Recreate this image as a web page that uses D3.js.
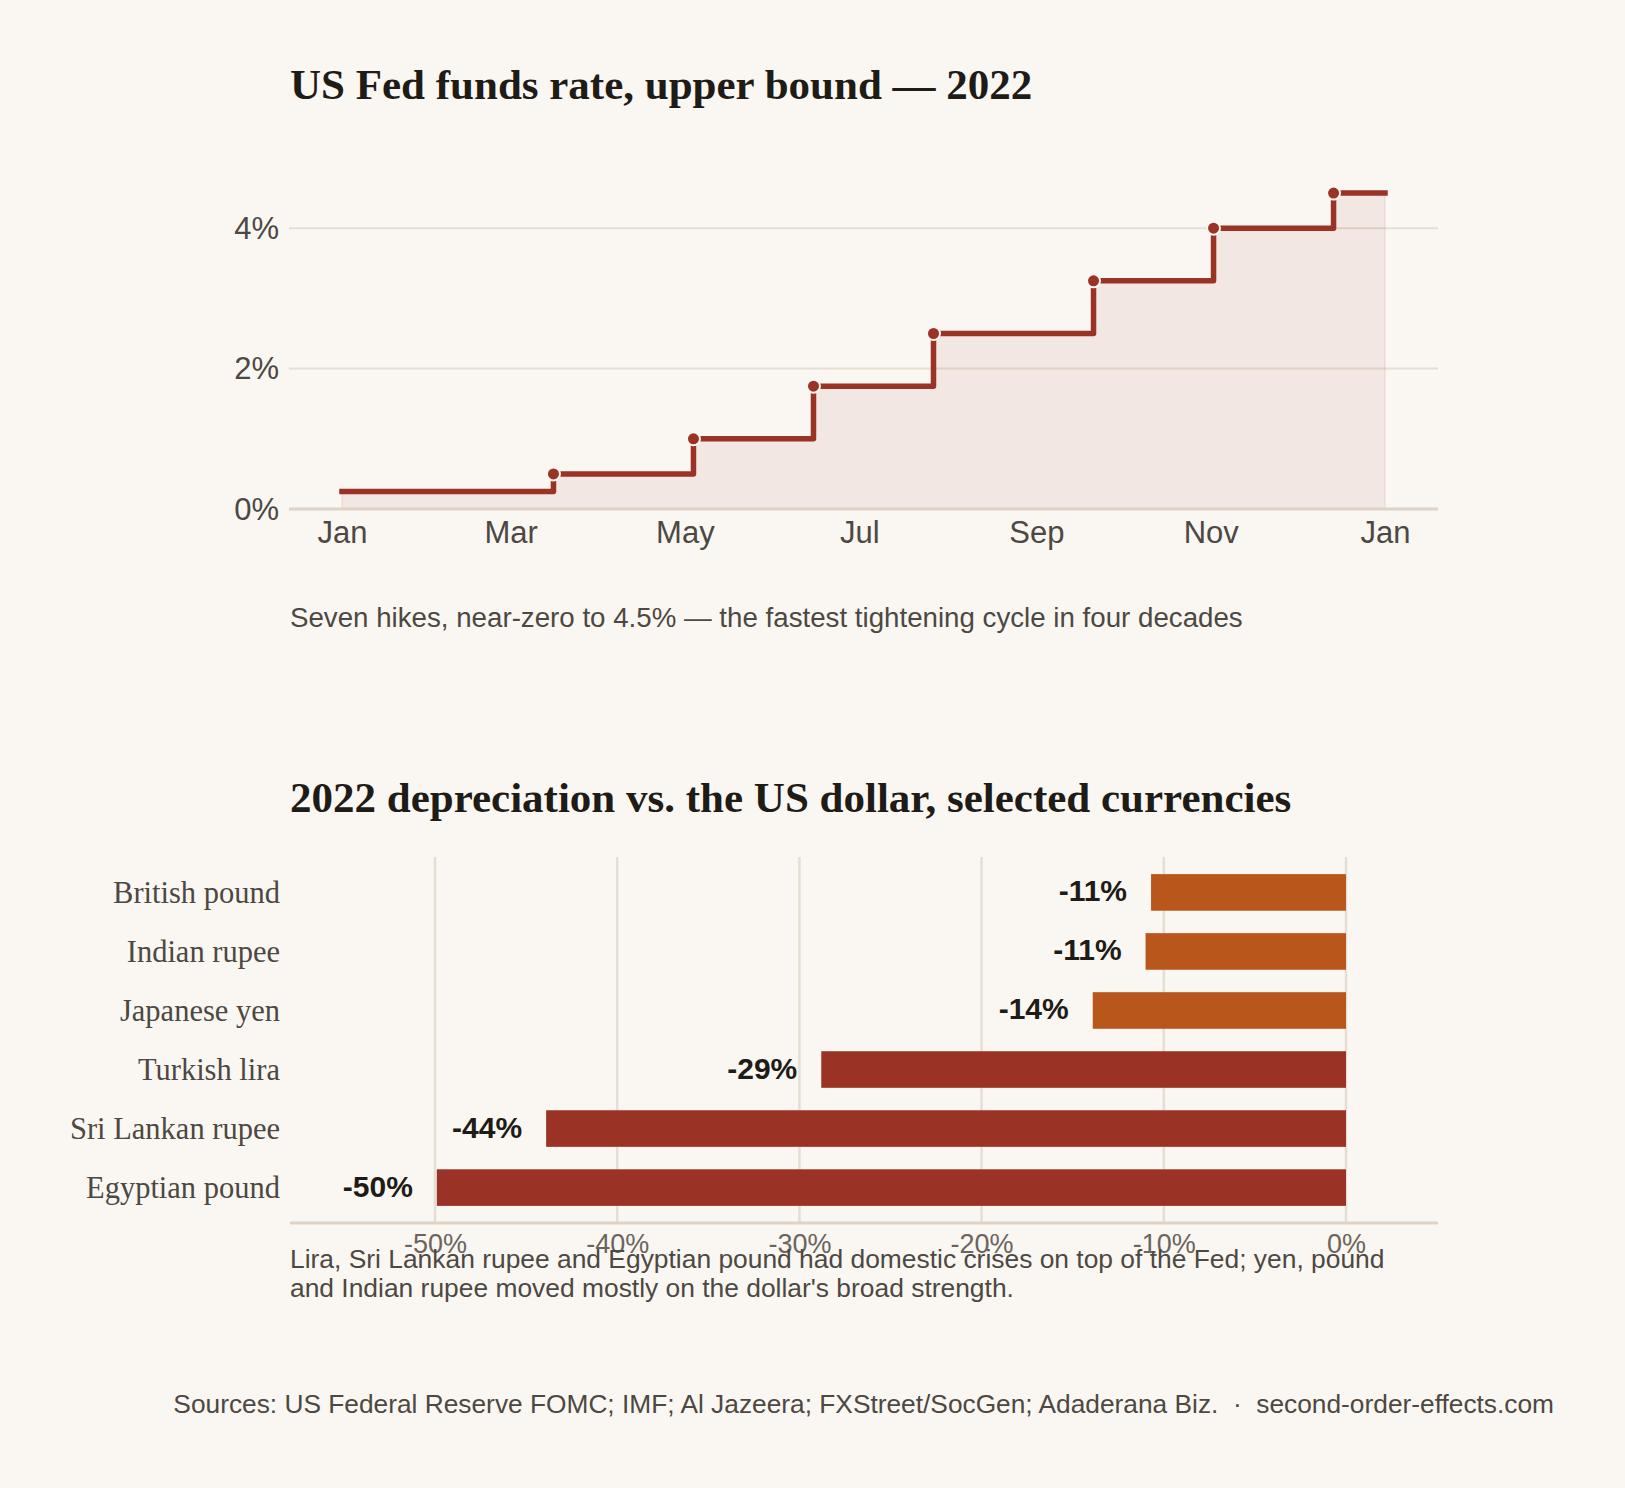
<!DOCTYPE html>
<html>
<head>
<meta charset="utf-8">
<script src="https://cdn.jsdelivr.net/npm/d3@7"></script>
<style>
  html, body { margin: 0; padding: 0; background: #faf7f2; }
  svg { display: block; }
</style>
</head>
<body>
<svg id="chart"></svg>
<script>
// fed funds upper bound, 2022 (start value + each hike)
const rateDates = ["2022-01-01", "2022-03-16", "2022-05-04", "2022-06-15", "2022-07-27", "2022-09-21", "2022-11-02", "2022-12-14"];
const rateValues = [0.25, 0.5, 1.0, 1.75, 2.5, 3.25, 4.0, 4.5];
const rateEnd = "2023-01-01";
const rateTicks = [0, 2, 4];

// currency depreciation vs USD
const currencies = ["British pound", "Indian rupee", "Japanese yen", "Turkish lira", "Sri Lankan rupee", "Egyptian pound"];
const depreciation = [-10.7, -11.0, -13.9, -28.8, -43.9, -49.9];
const crisisFlag = [false, false, false, true, true, true];
const pctTicks = [-50, -40, -30, -20, -10, 0];

const w = 1625, h = 1488;
const bg = "#faf7f2";
const red = "#9a3326", orange = "#b8561c";
const gridCol = "#e6ded2", axisCol = "#ddd4c7";
const ink = "#1f1b17", grey = "#4d4842";
const sans = "'Liberation Sans', Arial, sans-serif";
const serif = "'Liberation Serif', 'Times New Roman', serif";

const frameL = 289, frameR = 1438;

let svg = d3.select("#chart").attr("width", w).attr("height", h);
svg.append("rect").attr("width", w).attr("height", h).attr("fill", bg);

// ---------- chart 1 : step line ----------
let parse = d3.timeParse("%Y-%m-%d");
let rates = rateDates.map((d, i) => ({date: parse(d), value: rateValues[i]}));
let lineData = rates.concat([{date: parse(rateEnd), value: rateValues[rateValues.length - 1]}]);

let xTime = d3.scaleTime()
  .domain([parse(rateDates[0]), parse(rateEnd)])
  .range([342, 1385]);
let yRate = d3.scaleLinear().domain([0, 5]).range([509, 158]);

svg.append("text")
  .attr("x", 290).attr("y", 99)
  .attr("font-family", serif).attr("font-weight", "bold").attr("font-size", 43)
  .attr("fill", ink)
  .text("US Fed funds rate, upper bound \u2014 2022");

// gridlines
svg.append("g").selectAll("line")
  .data(rateTicks.filter(d => d > 0))
  .enter().append("line")
  .attr("x1", frameL).attr("x2", frameR)
  .attr("y1", d => yRate(d)).attr("y2", d => yRate(d))
  .attr("stroke", gridCol).attr("stroke-width", 2);

// y labels
svg.append("g").selectAll("text")
  .data(rateTicks)
  .enter().append("text")
  .attr("x", 279).attr("y", d => yRate(d)).attr("dy", "0.35em")
  .attr("text-anchor", "end")
  .attr("font-family", sans).attr("font-size", 31).attr("fill", grey)
  .text(d => d + "%");

// area
let area = d3.area()
  .curve(d3.curveStepAfter)
  .x(d => xTime(d.date))
  .y0(yRate(0))
  .y1(d => yRate(d.value));
svg.append("path")
  .datum(lineData)
  .attr("d", area)
  .attr("fill", red).attr("fill-opacity", 0.08)
  .attr("stroke", red).attr("stroke-opacity", 0.07).attr("stroke-width", 2);

// baseline
svg.append("line")
  .attr("x1", frameL).attr("x2", frameR)
  .attr("y1", yRate(0)).attr("y2", yRate(0))
  .attr("stroke", axisCol).attr("stroke-width", 3);

// x axis labels
let xAxis = d3.axisBottom(xTime)
  .ticks(d3.timeMonth.every(2))
  .tickFormat(d3.timeFormat("%b"))
  .tickSize(0).tickPadding(12);
let gx = svg.append("g")
  .attr("transform", "translate(0," + yRate(0) + ")")
  .call(xAxis);
gx.select(".domain").remove();
gx.selectAll("text")
  .attr("font-family", sans).attr("font-size", 31).attr("fill", grey);

// step line
let line = d3.line()
  .curve(d3.curveStepAfter)
  .x(d => xTime(d.date))
  .y(d => yRate(d.value));
svg.append("path")
  .datum(lineData)
  .attr("d", line)
  .attr("fill", "none")
  .attr("stroke", red).attr("stroke-width", 5.5)
  .attr("stroke-linejoin", "round").attr("stroke-linecap", "square");

// hike dots
svg.append("g").selectAll("circle")
  .data(rates.slice(1))
  .enter().append("circle")
  .attr("cx", d => xTime(d.date))
  .attr("cy", d => yRate(d.value))
  .attr("r", 6.5)
  .attr("fill", red)
  .attr("stroke", bg).attr("stroke-width", 2);

svg.append("text")
  .attr("x", 290).attr("y", 627)
  .attr("font-family", sans).attr("font-size", 27.7).attr("fill", grey)
  .text("Seven hikes, near-zero to 4.5% \u2014 the fastest tightening cycle in four decades");

// ---------- chart 2 : bars ----------
let bars = currencies.map((c, i) => ({name: c, value: depreciation[i], crisis: crisisFlag[i]}));

let xPct = d3.scaleLinear().domain([-50, 0]).range([435, 1346]);
let yBand = d3.scaleBand()
  .domain(currencies)
  .range([857, 1223])
  .paddingInner(0.38)
  .paddingOuter(0.29);

svg.append("text")
  .attr("x", 290).attr("y", 812)
  .attr("font-family", serif).attr("font-weight", "bold").attr("font-size", 43)
  .attr("fill", ink)
  .text("2022 depreciation vs. the US dollar, selected currencies");

// vertical gridlines
svg.append("g").selectAll("line")
  .data(pctTicks)
  .enter().append("line")
  .attr("x1", d => xPct(d)).attr("x2", d => xPct(d))
  .attr("y1", 857).attr("y2", 1223)
  .attr("stroke", gridCol).attr("stroke-width", 2.5);

svg.append("g").selectAll("rect")
  .data(bars)
  .enter().append("rect")
  .attr("x", d => xPct(d.value))
  .attr("width", d => xPct(0) - xPct(d.value))
  .attr("y", d => yBand(d.name))
  .attr("height", yBand.bandwidth())
  .attr("fill", d => d.crisis ? red : orange);

// category labels
svg.append("g").selectAll("text")
  .data(bars)
  .enter().append("text")
  .attr("x", 280)
  .attr("y", d => yBand(d.name) + yBand.bandwidth() / 2)
  .attr("dy", "0.35em")
  .attr("text-anchor", "end")
  .attr("font-family", serif).attr("font-size", 30.5).attr("fill", grey)
  .text(d => d.name);

// value labels
svg.append("g").selectAll("text")
  .data(bars)
  .enter().append("text")
  .attr("x", d => xPct(d.value) - 24)
  .attr("y", d => yBand(d.name) + yBand.bandwidth() / 2)
  .attr("dy", "0.3em")
  .attr("text-anchor", "end")
  .attr("font-family", sans).attr("font-weight", "bold").attr("font-size", 30)
  .attr("fill", ink)
  .text(d => Math.round(d.value) + "%");

// axis line
svg.append("line")
  .attr("x1", frameL + 1).attr("x2", frameR)
  .attr("y1", 1223).attr("y2", 1223)
  .attr("stroke", axisCol).attr("stroke-width", 3);

// tick labels
let xAxis2 = d3.axisBottom(xPct)
  .tickValues(pctTicks)
  .tickFormat(d => d + "%")
  .tickSize(0).tickPadding(11);
let gx2 = svg.append("g")
  .attr("transform", "translate(0,1223)")
  .call(xAxis2);
gx2.select(".domain").remove();
gx2.selectAll("text")
  .attr("font-family", sans).attr("font-size", 27).attr("fill", "#6b655d");

// note
let note = svg.append("text")
  .attr("font-family", sans).attr("font-size", 26.4).attr("fill", grey);
note.append("tspan").attr("x", 290).attr("y", 1268)
  .text("Lira, Sri Lankan rupee and Egyptian pound had domestic crises on top of the Fed; yen, pound");
note.append("tspan").attr("x", 290).attr("y", 1297)
  .text("and Indian rupee moved mostly on the dollar's broad strength.");

// footer
svg.append("text")
  .attr("x", 1554).attr("y", 1413)
  .attr("text-anchor", "end")
  .attr("font-family", sans).attr("font-size", 26.3).attr("fill", grey)
  .attr("xml:space", "preserve")
  .text("Sources: US Federal Reserve FOMC; IMF; Al Jazeera; FXStreet/SocGen; Adaderana Biz.  \u00b7  second-order-effects.com");
</script>
</body>
</html>
